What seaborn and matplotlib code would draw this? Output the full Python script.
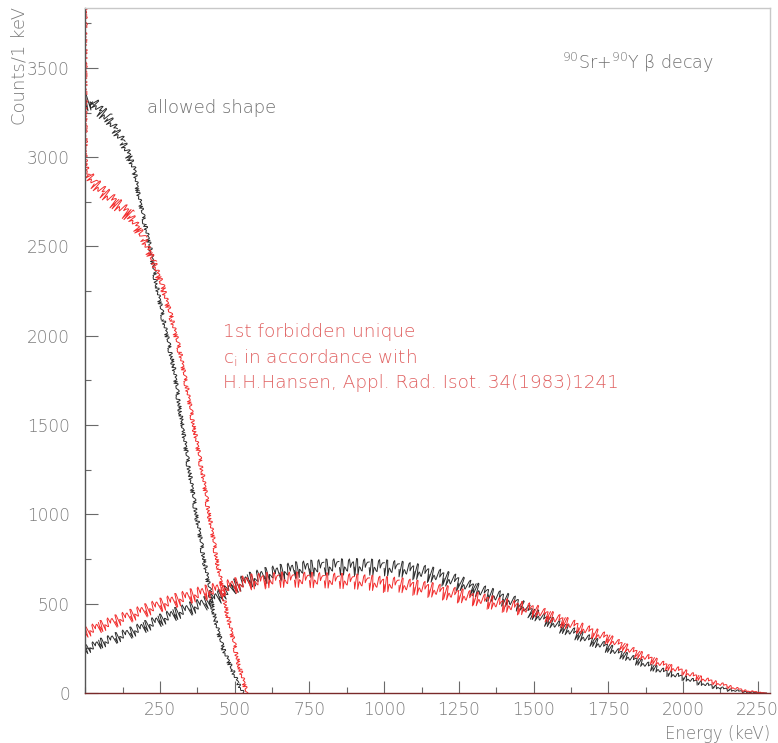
import matplotlib
matplotlib.use("Agg")
import matplotlib.pyplot as plt
from matplotlib.ticker import FixedLocator, MultipleLocator
import numpy as np
import pandas as pd
import seaborn as sns

# 90Sr component (endpoint ~546 keV), allowed shape
sr_allowed_energy = [0, 25, 50, 75, 100, 125, 150, 166, 175, 200, 216, 239, 261,
                     295, 328, 350, 374, 400, 434, 460, 491, 510, 528, 2290]
sr_allowed_counts = [3300, 3310, 3255, 3215, 3150, 3080, 2990, 2910, 2810, 2620,
                     2500, 2275, 2090, 1830, 1455, 1220, 970, 720, 410, 250, 130,
                     55, 0, 0]

# 90Sr component, 1st forbidden unique shape
sr_forbidden_energy = [0, 1, 10, 30, 60, 100, 150, 194, 228, 261, 289, 317, 339,
                       367, 392, 417, 445, 479, 518, 540, 2290]
sr_forbidden_counts = [3900, 2950, 2900, 2850, 2800, 2740, 2670, 2540, 2410, 2255,
                       2090, 1905, 1715, 1455, 1230, 970, 700, 410, 130, 0, 0]

# 90Y component (endpoint ~2280 keV)
y_energy = [0, 50, 100, 150, 200, 250, 300, 350, 400, 450, 500, 550, 600, 650,
            700, 750, 800, 850, 900, 950, 1000, 1050, 1100, 1150, 1200, 1250,
            1300, 1350, 1400, 1450, 1500, 1550, 1600, 1650, 1700, 1750, 1800,
            1850, 1900, 1950, 2000, 2050, 2100, 2150, 2200, 2250, 2280]
y_allowed_counts = [240, 275, 305, 335, 370, 405, 440, 470, 500, 540, 595, 630,
                    655, 672, 686, 695, 701, 705, 705, 702, 698, 692, 680, 664,
                    642, 615, 580, 550, 525, 495, 440, 400, 360, 322, 285, 250,
                    210, 175, 140, 110, 85, 58, 36, 18, 7, 1, 0]
y_forbidden_counts = [336, 370, 400, 430, 460, 490, 515, 540, 560, 580, 600, 620,
                      628, 631, 632, 630, 628, 625, 622, 615, 607, 603, 590, 578,
                      562, 545, 528, 508, 490, 476, 462, 428, 395, 365, 335, 301,
                      258, 215, 180, 144, 118, 85, 60, 36, 14, 3, 0]

x_ticks = [250, 500, 750, 1000, 1250, 1500, 1750, 2000, 2250]
y_ticks = [0, 500, 1000, 1500, 2000, 2500, 3000, 3500]

BLACK = "#2a2a2a"
RED = "#f22c2c"
TEXT = "#7c7c7c"
X_MAX, Y_MAX = 2291, 3835

sns.set_theme(style="ticks")
plt.rcParams["font.family"] = ["DejaVu Sans"]

fig = plt.figure(figsize=(7.78, 7.43), dpi=100)
ax = fig.add_axes([0.1096, 0.0673, 0.8801, 0.9219])
ax.set_xlim(0, X_MAX)
ax.set_ylim(0, Y_MAX)

# pixels per data unit, used to size the counting-noise texture of each segment
PX_X = 0.8801 * 778 / X_MAX
PX_Y = 0.9219 * 743 / Y_MAX


def hist_line(energy, counts, color):
    """Spectrum outline, drawn segment by segment so the statistical
    fluctuation texture follows the local count level and slope."""
    xs = [energy[0]] + list(energy)
    ys = [0] + list(counts)
    rows, scales = [], []
    for i in range(len(xs) - 1):
        x0, x1, y0, y1 = xs[i], xs[i + 1], ys[i], ys[i + 1]
        rows += [(x0, y0, i), (x1, y1, i)]
        dxp, dyp = (x1 - x0) * PX_X, (y1 - y0) * PX_Y
        n = 0.5 * (y0 + y1)
        if dxp == 0 or (y0 == 0 and y1 == 0):
            scales.append(None)
            continue
        cos_t = abs(dxp) / np.hypot(dxp, dyp)
        amp = min(9.0, 0.33 * np.sqrt(n))
        scales.append(max(min(2.0, amp), amp * cos_t))
    df = pd.DataFrame(rows, columns=["energy", "counts", "seg"])
    n_before = len(ax.lines)
    sns.lineplot(data=df, x="energy", y="counts", units="seg", sort=False,
                 estimator=None, color=color, lw=0.7, ax=ax, legend=False)
    for line, sc in zip(ax.lines[n_before:], scales):
        if sc is None:
            line.set_sketch_params(None)
        else:
            line.set_sketch_params(scale=sc, length=1.0, randomness=3)


hist_line(y_energy, y_allowed_counts, BLACK)
hist_line(sr_allowed_energy, sr_allowed_counts, BLACK)
hist_line(y_energy, y_forbidden_counts, RED)
hist_line(sr_forbidden_energy, sr_forbidden_counts, RED)

ax.set_xlim(0, X_MAX)
ax.set_ylim(0, Y_MAX)
ax.set_xlabel("")
ax.set_ylabel("")

ax.xaxis.set_major_locator(FixedLocator(x_ticks))
ax.xaxis.set_minor_locator(MultipleLocator(125))
ax.yaxis.set_major_locator(FixedLocator(y_ticks))
ax.yaxis.set_minor_locator(MultipleLocator(250))
ax.set_xticklabels([str(t) for t in x_ticks], fontweight="light")
ax.set_yticklabels([str(t) for t in y_ticks], fontweight="light")

ax.tick_params(axis="both", which="major", direction="in", length=9,
               width=0.8, color="#6a6a6a", labelcolor=TEXT, labelsize=12.2)
ax.tick_params(axis="both", which="minor", direction="in", length=4.5,
               width=0.8, color="#6a6a6a")
ax.tick_params(axis="x", which="major", pad=6)
ax.tick_params(axis="y", which="major", pad=11)

for side in ("top", "right"):
    ax.spines[side].set_visible(True)
    ax.spines[side].set_color("#c8c8c8")
    ax.spines[side].set_linewidth(1.0)
ax.spines["left"].set_color("#555555")
ax.spines["bottom"].set_color("#7a2a2a")
ax.spines["left"].set_linewidth(1.0)
ax.spines["bottom"].set_linewidth(1.0)

fig.text(20 / 778, 1 - 7 / 743, "Counts/1 keV", rotation=90, ha="center",
         va="top", color=TEXT, fontsize=13, fontweight="light")
fig.text(770 / 778, 1 - 734 / 743, "Energy (keV)", ha="right", va="center",
         color=TEXT, fontsize=12, fontweight="light")

ax.text(206, 3275, "allowed shape", color="#707070", fontsize=13,
        ha="left", va="center", fontweight="light")
ax.text(1595, 3527, r"$^{\mathregular{90}}$Sr+$^{\mathregular{90}}$Y β decay",
        color="#707070", fontsize=12.6, ha="left", va="center",
        fontweight="light")

red_lines = ["1st forbidden unique",
             r"c$_{\mathregular{i}}$ in accordance with",
             "H.H.Hansen, Appl. Rad. Isot. 34(1983)1241"]
for txt, yc in zip(red_lines, [332, 358, 383]):
    ax.text(460, (693 - yc) / PX_Y, txt, color="#e06060", fontsize=13.2,
            ha="left", va="center", fontweight="light")

fig.savefig("out.png", dpi=100, facecolor="white")
